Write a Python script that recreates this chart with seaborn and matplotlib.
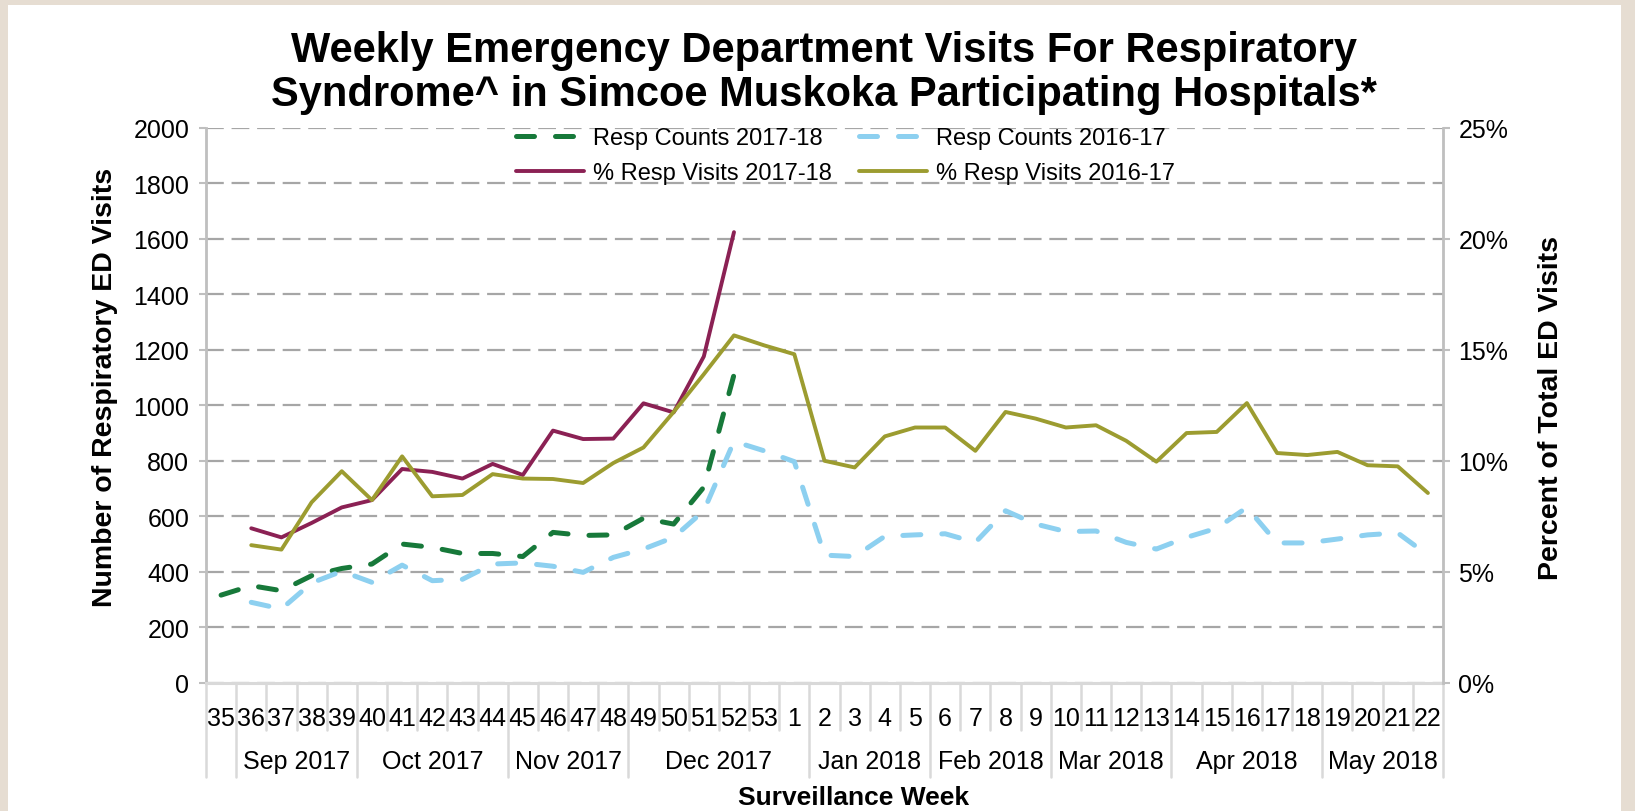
import numpy as np
import pandas as pd
import matplotlib
matplotlib.use("Agg")
import matplotlib.pyplot as plt
import matplotlib.transforms as mtransforms
from matplotlib.patches import Rectangle
import seaborn as sns

# data
weeks = [str(w) for w in range(35, 54)] + [str(w) for w in range(1, 23)]
month_labels = ["", "Sep 2017", "Oct 2017", "Nov 2017", "Dec 2017",
                "Jan 2018", "Feb 2018", "Mar 2018", "Apr 2018", "May 2018"]
month_sizes = [1, 4, 5, 4, 6, 4, 4, 4, 5, 4]

nan = np.nan
# Resp Counts 2017-18 (weeks 35..52)
resp_1718 = [316, 350, 332, 386, 412, 428, 500, 488, 466, 466, 455, 542,
             531, 533, 593, 572, 705, 1110] + [nan] * 23
# Resp Counts 2016-17 (weeks 36..22)
resp_1617 = [nan, 290, 266, 360, 402, 362, 424, 368, 373, 428, 432, 420,
             398, 452, 482, 524, 620, 870, 836, 797, 460, 455, 528, 533,
             537, 506, 620, 572, 545, 547, 506, 482, 524, 557, 632, 504,
             504, 518, 533, 540, 460]
# % Resp Visits 2017-18 (weeks 36..52)
pct_1718 = [nan, 6.96, 6.55, 7.2, 7.9, 8.23, 9.63, 9.5, 9.2, 9.86, 9.36,
            11.36, 10.98, 11.0, 12.59, 12.18, 14.7, 20.3] + [nan] * 23
# % Resp Visits 2016-17 (weeks 36..22)
pct_1617 = [nan, 6.2, 6.0, 8.13, 9.53, 8.23, 10.2, 8.4, 8.46, 9.4, 9.2,
            9.18, 9.0, 9.9, 10.6, 12.2, 13.9, 15.65, 15.2, 14.8, 10.0, 9.7,
            11.1, 11.5, 11.5, 10.45, 12.2, 11.9, 11.5, 11.6, 10.9, 9.96,
            11.25, 11.3, 12.6, 10.35, 10.26, 10.4, 9.8, 9.75, 8.55]

df = pd.DataFrame({"pos": np.arange(len(weeks)), "week": weeks,
                   "resp_1718": resp_1718, "resp_1617": resp_1617,
                   "pct_1718": pct_1718, "pct_1617": pct_1617})

sns.set_style("white")
plt.rcParams['font.family'] = ['Liberation Sans', 'DejaVu Sans']
plt.rcParams['text.color'] = "black"

W, H = 1635, 812
fig = plt.figure(figsize=(W / 100, H / 100), dpi=100, facecolor="#E6DDD2")
fig.patches.append(Rectangle((8 / W, 0), (1621 - 8) / W, (H - 6) / H,
                             transform=fig.transFigure, facecolor="white",
                             edgecolor="none", zorder=-1))

left, right, top, bottom = 206, 1443, 128.8, 683.8
ax = fig.add_axes([left / W, 1 - bottom / H, (right - left) / W, (bottom - top) / H])
ax.set_facecolor("none")
ax2 = ax.twinx()

green, blue, purple, olive = "#17793A", "#8DD0F0", "#8B2154", "#9C9C30"
dash = (0, (3.6, 4.2))

sns.lineplot(data=df, x="pos", y="resp_1718", ax=ax, color=green, lw=3.6,
             linestyle=dash, dash_capstyle="round", label="Resp Counts 2017-18")
sns.lineplot(data=df, x="pos", y="resp_1617", ax=ax, color=blue, lw=3.6,
             linestyle=dash, dash_capstyle="round", label="Resp Counts 2016-17")
sns.lineplot(data=df, x="pos", y="pct_1718", ax=ax2, color=purple, lw=2.8,
             label="% Resp Visits 2017-18")
sns.lineplot(data=df, x="pos", y="pct_1617", ax=ax2, color=olive, lw=2.8,
             label="% Resp Visits 2016-17")
for a in (ax, ax2):
    if a.get_legend() is not None:
        a.get_legend().remove()

ax.set_xlim(-0.5, len(weeks) - 0.5)
ax.set_ylim(0, 2000)
ax2.set_ylim(0, 25)
ax.set_yticks(range(0, 2001, 200))
ax2.set_yticks(range(0, 26, 5))
ax2.set_yticklabels([f"{v}%" for v in range(0, 26, 5)])
ax.set_xticks(df["pos"])
ax.set_xticklabels(weeks)
ax.set_xlabel("")
ax.set_ylabel("")
ax2.set_ylabel("")

ax.yaxis.grid(True, color="#A6A6A6", linestyle=(0, (8, 3.5)), lw=1.6)
ax.set_axisbelow(True)

for a in (ax, ax2):
    for s in a.spines.values():
        s.set_visible(False)
ax.spines["left"].set_visible(True)
ax.spines["left"].set_color("#BFBFBF")
ax.spines["left"].set_linewidth(2)
ax.spines["bottom"].set_visible(True)
ax.spines["bottom"].set_color("#D9D9D9")
ax.spines["bottom"].set_linewidth(2.2)
ax2.spines["right"].set_visible(True)
ax2.spines["right"].set_color("#BFBFBF")
ax2.spines["right"].set_linewidth(2)

ax.tick_params(axis="y", left=True, length=5, width=1.5, color="#BFBFBF",
               labelsize=18, pad=7, labelcolor="black")
ax2.tick_params(axis="y", right=True, length=5, width=1.5, color="#BFBFBF",
                labelsize=18, pad=6, labelcolor="black")
ax.tick_params(axis="x", bottom=False, labelsize=18, pad=13, labelcolor="black")

# category separators and month groups below the axis
trans = mtransforms.blended_transform_factory(ax.transData, ax.transAxes)
short_y = (bottom - 731) / (bottom - top)
long_y = (bottom - 778) / (bottom - top)
bounds = np.cumsum([0] + month_sizes)
for b in range(len(weeks) + 1):
    yb = long_y if b in bounds else short_y
    ax.plot([b - 0.5, b - 0.5], [0, yb], transform=trans, clip_on=False,
            color="#D9D9D9", lw=1.8, zorder=1)
month_y = (bottom - 762) / (bottom - top)
for lab, a, b in zip(month_labels, bounds[:-1], bounds[1:]):
    ax.text((a + b - 1) / 2, month_y, lab, transform=trans, ha="center",
            va="center", fontsize=18, color="black")

# legend
h1, l1 = ax.get_legend_handles_labels()
h2, l2 = ax2.get_legend_handles_labels()
handles = [h1[0], h2[0], h1[1], h2[1]]
labels = [l1[0], l2[0], l1[1], l2[1]]
fig.legend(handles, labels, ncol=2, loc="upper left",
           bbox_to_anchor=(516 / W, 1 - 128 / H), frameon=False, fontsize=17,
           handlelength=2.9, handletextpad=0.35, columnspacing=1.15,
           labelspacing=0.55, borderpad=0, borderaxespad=0)

fig.text(824 / W, 1 - 73 / H,
         "Weekly Emergency Department Visits For Respiratory\n"
         "Syndrome^ in Simcoe Muskoka Participating Hospitals*",
         ha="center", va="center", fontsize=30, fontweight="bold",
         linespacing=1.12)
fig.text(105 / W, 1 - 387 / H, "Number of Respiratory ED Visits", rotation=90,
         ha="center", va="center", fontsize=20.5, fontweight="bold")
fig.text(1551 / W, 1 - 408 / H, "Percent of Total ED Visits", rotation=90,
         ha="center", va="center", fontsize=20.5, fontweight="bold")
fig.text(854 / W, 2 / H, "Surveillance Week", ha="center", va="bottom",
         fontsize=19, fontweight="bold")

fig.savefig("out.png", dpi=100, facecolor=fig.get_facecolor())
